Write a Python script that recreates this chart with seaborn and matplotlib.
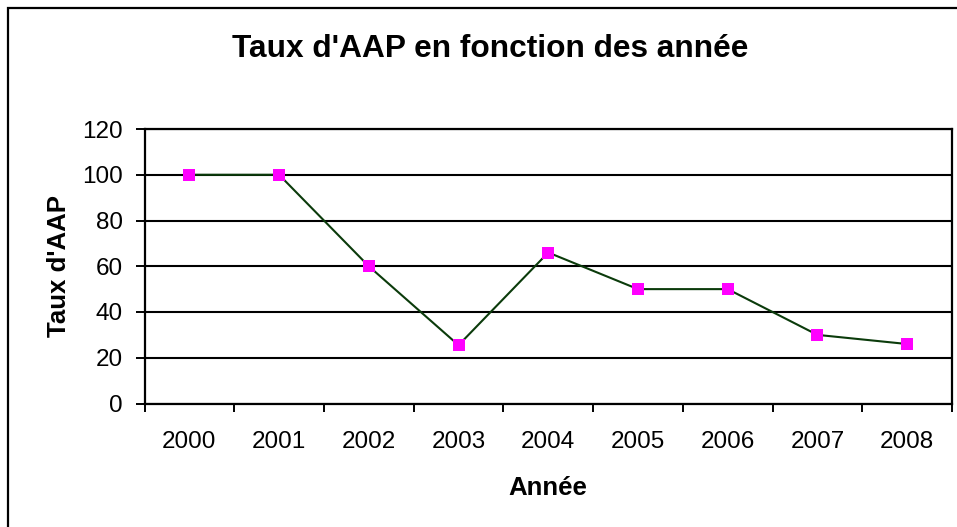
import matplotlib
matplotlib.use("Agg")
import matplotlib.pyplot as plt
from matplotlib.patches import Rectangle
from matplotlib.ticker import FixedLocator, NullFormatter
import seaborn as sns
import pandas as pd

# Données
annees = ["2000", "2001", "2002", "2003", "2004", "2005", "2006", "2007", "2008"]
taux_aap = [100, 100, 60, 25.5, 66, 50, 50, 30, 26]
y_ticks = [0, 20, 40, 60, 80, 100, 120]

titre = "Taux d'AAP en fonction des année"
label_x = "Année"
label_y = "Taux d'AAP"

df = pd.DataFrame({"annee": annees, "taux": taux_aap})

sns.set_theme(style="white")
plt.rcParams["font.family"] = ["Liberation Sans", "DejaVu Sans"]

W, H = 957, 527
fig = plt.figure(figsize=(W / 100, H / 100), dpi=100)
fig.patch.set_facecolor("white")

# Zone de tracé
ax = fig.add_axes([144.5 / W, 1 - 403.5 / H, (952 - 144.5) / W, (403.5 - 129) / H])
ax.set_facecolor("white")

sns.lineplot(data=df, x="annee", y="taux", ax=ax, color="#0B3B0B",
             linewidth=1.5, sort=False, zorder=3)
sns.scatterplot(data=df, x="annee", y="taux", ax=ax, color="#FF00FF",
                marker="s", s=72, linewidth=0, zorder=4)

n = len(annees)
ax.set_xlim(-0.5, n - 0.5)
ax.set_ylim(0, 120)
ax.set_yticks(y_ticks)
ax.set_yticklabels([str(v) for v in y_ticks])

# Graduations de l'axe X aux frontières des catégories, libellés au centre
ax.xaxis.set_major_locator(FixedLocator([i - 0.5 for i in range(n + 1)]))
ax.xaxis.set_major_formatter(NullFormatter())
ax.xaxis.set_minor_locator(FixedLocator(list(range(n))))
ax.set_xticklabels(annees, minor=True)
ax.tick_params(axis="x", which="major", direction="out", length=6, width=1.4,
               color="black", bottom=True)
ax.tick_params(axis="x", which="minor", length=0, pad=20, labelsize=17.5,
               labelcolor="black", bottom=True)
ax.tick_params(axis="y", which="major", direction="out", length=6.5, width=1.4,
               color="black", pad=9, labelsize=17.5, labelcolor="black", left=True)

ax.grid(axis="y", color="black", linewidth=1.5)
ax.set_axisbelow(True)
for side in ["left", "bottom", "right", "top"]:
    ax.spines[side].set_visible(True)
    ax.spines[side].set_color("black")
    ax.spines[side].set_linewidth(1.6)

ax.set_xlabel("")
ax.set_ylabel("")

# Titres
fig.text(490 / W, 1 - 57 / H, titre, ha="center", va="baseline",
         fontsize=22.8, fontweight="bold", color="black")
fig.text(548 / W, 1 - 495 / H, label_x, ha="center", va="baseline",
         fontsize=18.6, fontweight="bold", color="black")
fig.text(65.5 / W, 1 - 266 / H, label_y, ha="center", va="baseline",
         rotation=90, rotation_mode="anchor", fontsize=18.6,
         fontweight="bold", color="black")

# Cadre du graphique
fig.patches.append(Rectangle((8.3 / W, -0.2), 1.2, 1 - 7.8 / H + 0.2,
                             transform=fig.transFigure, fill=False,
                             edgecolor="black", linewidth=1.6, clip_on=False))

fig.savefig("out.png", dpi=100, facecolor="white")
